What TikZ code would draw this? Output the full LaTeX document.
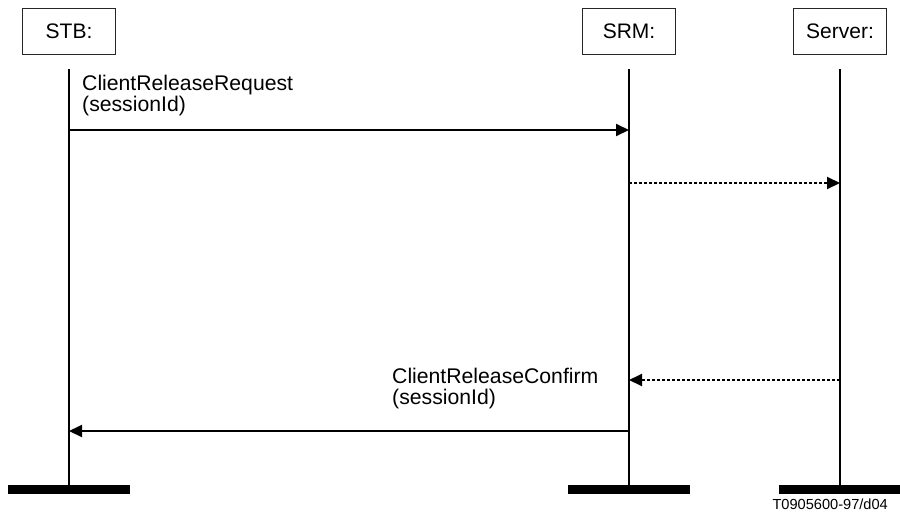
\documentclass[tikz,border=0pt]{standalone}
\usepackage{fontspec}
\setmainfont{Liberation Sans}
\usetikzlibrary{arrows.meta}

\begin{document}
\begin{tikzpicture}[
		x=1pt, y=-1pt,
		A/.style = {rectangle, draw=black!85, line width=0.8pt,% boxes of the actors
			minimum width=93pt, minimum height=46pt,
			font=\fontsize{21}{21}\selectfont},
		L/.style = {line width=2pt},% lifelines
		M/.style = {line width=2pt,% messages
			-{Triangle[length=13pt,width=12pt]}},
		D/.style = {M, dash pattern=on 3pt off 2pt},% dotted messages
		G/.style = {line width=9pt},% bars at the foot
		T/.style = {align=left, inner sep=0pt, anchor=base west,% base = last line
			font=\fontsize{21.2}{21}\selectfont},
		]
		\useasboundingbox (0,0) rectangle (900,520);
		\foreach \n/\x/\t in {STB/69/STB:,SRM/629/SRM:,Srv/840/Server:}{
			\node[A] (\n) at (\x,31) {\t};
			\coordinate (\n-top) at (\x,69);
			\coordinate (\n-bot) at (\x,485);
			\coordinate (\n-bar) at (\x,489.5);
			\foreach \k/\y in {1/130,2/183,3/380,4/431}
			\coordinate (\n-\k) at (\x,\y);
			\draw[L] (\n-top) -- (\n-bot);
			\draw[G] ([xshift=-61pt]\n-bar) -- ([xshift=61pt]\n-bar);
		}
		\draw[M] (STB-1) -- (SRM-1);
		\draw[D] (SRM-2) -- (Srv-2);
		\draw[D] (Srv-3) -- (SRM-3);
		\draw[M] (SRM-4) -- (STB-4);
		\node[T] (req) at (82,111.7) {ClientReleaseRequest\\(sessionId)};
		\node[T] (cnf) at (392,404) {ClientReleaseConfirm\\(sessionId)};
		\node[anchor=base east, inner sep=0pt,
			font=\fontsize{14.6}{16}\selectfont] (cap) at (888,509) {T0905600-97/d04};
	\end{tikzpicture}
\end{document}
